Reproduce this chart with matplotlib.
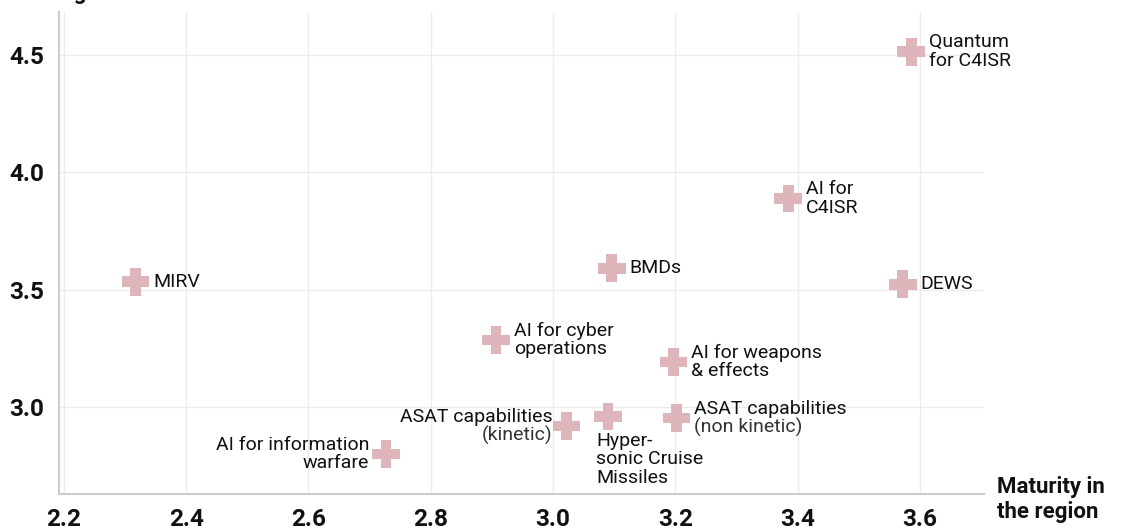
import matplotlib
matplotlib.use("Agg")
import matplotlib.pyplot as plt
from matplotlib.path import Path

plt.rcParams['font.family'] = ['Roboto', 'DejaVu Sans']

# Data
labels = ["Quantum\nfor C4ISR", "AI for\nC4ISR", "BMDs", "DEWS", "MIRV",
          "AI for cyber\noperations", "AI for weapons\n& effects",
          "AI for information\nwarfare", "ASAT capabilities", "Hyper-\nsonic Cruise\nMissiles",
          "ASAT capabilities"]
sublabels = ["", "", "", "", "", "", "", "", "(kinetic)", "", "(non kinetic)"]
maturity = [3.586, 3.385, 3.096, 3.572, 2.317, 2.907, 3.197, 2.727, 3.022, 3.090, 3.202]
significance = [4.514, 3.889, 3.591, 3.523, 3.534, 3.286, 3.193, 2.800, 2.920, 2.960, 2.953]
x_ticks = [2.2, 2.4, 2.6, 2.8, 3.0, 3.2, 3.4, 3.6]
y_ticks = [3.0, 3.5, 4.0, 4.5]

# thick plus marker
a = 0.38
plus = Path([(-a, 1), (a, 1), (a, a), (1, a), (1, -a), (a, -a), (a, -1),
             (-a, -1), (-a, -a), (-1, -a), (-1, a), (-a, a), (-a, 1)], closed=True)

W, H = 1123, 531
fig = plt.figure(figsize=(W / 100, H / 100), dpi=100)
ax = fig.add_axes([59 / W, 1 - 494 / H, (984 - 59) / W, (494 - 12) / H])

ax.set_xlim(2.192, 3.705)
ax.set_ylim(2.63, 4.683)

ax.scatter(maturity, significance, marker=plus, s=20 ** 2, color='#ddb5bb',
           edgecolors='none', zorder=3)

# label placement: (ha, dx px, dy px, va)
place = {
    7: ('right', -17, 0, 'center'),
    8: ('right', -14, 0, 'center'),
    9: ('left', -12, -15, 'top'),
}
px = 72 / 100.0
FS = 14
for i, (lab, sub) in enumerate(zip(labels, sublabels)):
    ha, dx, dy, va = place.get(i, ('left', 18, 0, 'center'))
    if sub:
        ax.annotate(lab, (maturity[i], significance[i]),
                    xytext=(dx * px, 9 * px), textcoords='offset points',
                    ha=ha, va='center', fontsize=FS, color='#111111', zorder=4)
        ax.annotate(sub, (maturity[i], significance[i]),
                    xytext=(dx * px, -9 * px), textcoords='offset points',
                    ha=ha, va='center', fontsize=FS, color='#333333', zorder=4)
    else:
        ax.annotate(lab, (maturity[i], significance[i]),
                    xytext=(dx * px, dy * px), textcoords='offset points',
                    ha=ha, va=va, fontsize=FS, color='#111111',
                    linespacing=1.05, zorder=4)

ax.set_xticks(x_ticks)
ax.set_xticklabels([f"{v:.1f}" for v in x_ticks])
ax.set_yticks(y_ticks)
ax.set_yticklabels([f"{v:.1f}" for v in y_ticks])
ax.tick_params(axis='both', length=0, labelsize=17.5, colors='#111111')
ax.tick_params(axis='x', pad=10)
ax.tick_params(axis='y', pad=11)
for t in ax.get_xticklabels() + ax.get_yticklabels():
    t.set_fontweight('bold')

ax.grid(True, color='#ececec', linewidth=1.0)
ax.set_axisbelow(True)
for s in ['top', 'right']:
    ax.spines[s].set_visible(False)
for s in ['left', 'bottom']:
    ax.spines[s].set_color('#cccccc')
    ax.spines[s].set_linewidth(1.5)

# axis titles
fig.text(997 / W, 1 - 523 / H, "Maturity in\nthe region", ha='left', va='bottom',
         fontsize=16, fontweight='bold', color='#111111', linespacing=1.2)
fig.text(16 / W, 1 + 1 / H, "Significance in\nthe region", ha='left', va='baseline',
         fontsize=16, fontweight='bold', color='#111111', linespacing=1.2)

fig.savefig("out.png", dpi=100)
